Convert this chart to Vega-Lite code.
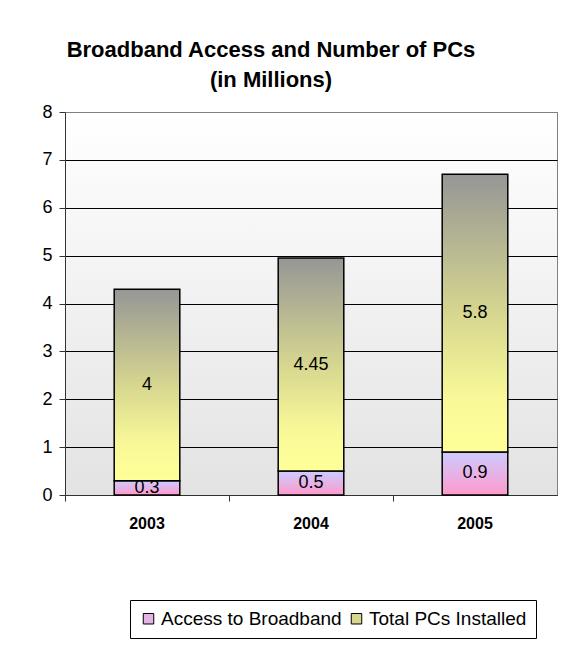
{
  "$schema": "https://vega.github.io/schema/vega-lite/v6.json",
  "width": 492,
  "height": 383,
  "autosize": {"type": "none"},
  "padding": {"left": 65, "top": 112, "right": 7, "bottom": 154},
  "background": "white",
  "title": {
    "text": ["Broadband Access and Number of PCs", "(in Millions)"],
    "font": "Liberation Sans",
    "fontSize": 22,
    "fontWeight": "bold",
    "lineHeight": 30,
    "anchor": "middle",
    "dx": -40,
    "offset": 11,
    "color": "black"
  },
  "data": {
    "values": [
      {"year": "2003", "series": "Access to Broadband", "ord": 1, "value": 0.3},
      {"year": "2003", "series": "Total PCs Installed", "ord": 2, "value": 4},
      {"year": "2004", "series": "Access to Broadband", "ord": 1, "value": 0.5},
      {"year": "2004", "series": "Total PCs Installed", "ord": 2, "value": 4.45},
      {"year": "2005", "series": "Access to Broadband", "ord": 1, "value": 0.9},
      {"year": "2005", "series": "Total PCs Installed", "ord": 2, "value": 5.8}
    ]
  },
  "transform": [
    {"stack": "value", "groupby": ["year"], "sort": [{"field": "ord"}], "as": ["v0", "v1"]},
    {"calculate": "(datum.v0 + datum.v1) / 2", "as": "vmid"}
  ],
  "encoding": {
    "x": {
      "field": "year",
      "type": "ordinal",
      "scale": {"paddingInner": 0, "paddingOuter": 0},
      "axis": {
        "title": null,
        "labelAngle": 0,
        "labelFont": "Liberation Sans",
        "labelFontSize": 16,
        "labelFontWeight": "bold",
        "labelColor": "black",
        "labelPadding": 14,
        "bandPosition": 0,
        "tickColor": "#333333",
        "tickSize": 6,
        "domainColor": "#333333",
        "domainWidth": 1
      }
    },
    "y": {
      "field": "v0",
      "type": "quantitative",
      "scale": {"domain": [0, 8]},
      "axis": {
        "title": null,
        "values": [0, 1, 2, 3, 4, 5, 6, 7, 8],
        "labelFont": "Liberation Sans",
        "labelFontSize": 18,
        "labelColor": "black",
        "labelPadding": 7,
        "tickSize": 6,
        "tickColor": "#333333",
        "domainColor": "#333333",
        "grid": true,
        "gridColor": {"condition": {"test": "datum.value == 8", "value": "#808080"}, "value": "black"},
        "gridWidth": 1
      }
    }
  },
  "layer": [
    {
      "transform": [{"filter": "datum.series == 'Access to Broadband'"}],
      "mark": {
        "type": "bar", "width": {"band": 0.4}, "stroke": "black", "strokeWidth": 1.5,
        "fill": {"gradient": "linear", "x1": 0, "y1": 0, "x2": 0, "y2": 1, "stops": [{"offset": 0, "color": "#CCCCFF"}, {"offset": 1, "color": "#FF99CC"}]}
      },
      "encoding": {"y2": {"field": "v1"}}
    },
    {
      "transform": [{"filter": "datum.series == 'Total PCs Installed'"}],
      "mark": {
        "type": "bar", "width": {"band": 0.4}, "stroke": "black", "strokeWidth": 1.5,
        "fill": {"gradient": "linear", "x1": 0, "y1": 0, "x2": 0, "y2": 1, "stops": [{"offset": 0, "color": "#969696"}, {"offset": 0.5, "color": "#D6D690"}, {"offset": 0.8, "color": "#F8F898"}, {"offset": 1, "color": "#FFFF99"}]}
      },
      "encoding": {"y2": {"field": "v1"}}
    },
    {
      "mark": {"type": "point", "shape": "square", "filled": true, "opacity": 0},
      "encoding": {
        "fill": {
          "field": "series",
          "type": "nominal",
          "scale": {"domain": ["Access to Broadband", "Total PCs Installed"], "range": ["#E6B3E6", "#D6D690"]},
          "legend": {
            "title": null,
            "orient": "none",
            "legendX": 65,
            "legendY": 488,
            "direction": "horizontal",
            "strokeColor": "black",
            "padding": 9,
            "symbolType": "square",
            "symbolSize": 110,
            "symbolOpacity": 1,
            "symbolStrokeColor": "black",
            "symbolStrokeWidth": 1,
            "labelFont": "Liberation Sans",
            "labelFontSize": 19,
            "labelColor": "black",
            "labelLimit": 0,
            "labelOffset": 3,
            "columnPadding": 5,
            "encode": {
              "symbols": {
                "update": {
                  "fill": {"signal": "datum.value == 'Access to Broadband' ? {gradient: 'linear', x1: 0, y1: 0, x2: 0, y2: 1, stops: [{offset: 0, color: '#CCCCFF'}, {offset: 1, color: '#FF99CC'}]} : {gradient: 'linear', x1: 0, y1: 0, x2: 0, y2: 1, stops: [{offset: 0, color: '#969696'}, {offset: 1, color: '#FFFF99'}]}"},
                  "opacity": {"value": 1},
                  "stroke": {"value": "black"}
                }
              }
            }
          }
        }
      }
    },
    {
      "mark": {"type": "text", "font": "Liberation Sans", "fontSize": 18, "color": "black", "baseline": "middle"},
      "encoding": {
        "y": {"field": "vmid", "type": "quantitative"},
        "text": {"field": "value", "type": "quantitative"}
      }
    }
  ],
  "config": {
    "view": {
      "stroke": "#808080",
      "strokeWidth": 1,
      "fill": {"gradient": "linear", "x1": 0, "y1": 0, "x2": 0, "y2": 1, "stops": [{"offset": 0, "color": "#FFFFFF"}, {"offset": 1, "color": "#E3E3E3"}]}
    }
  }
}
